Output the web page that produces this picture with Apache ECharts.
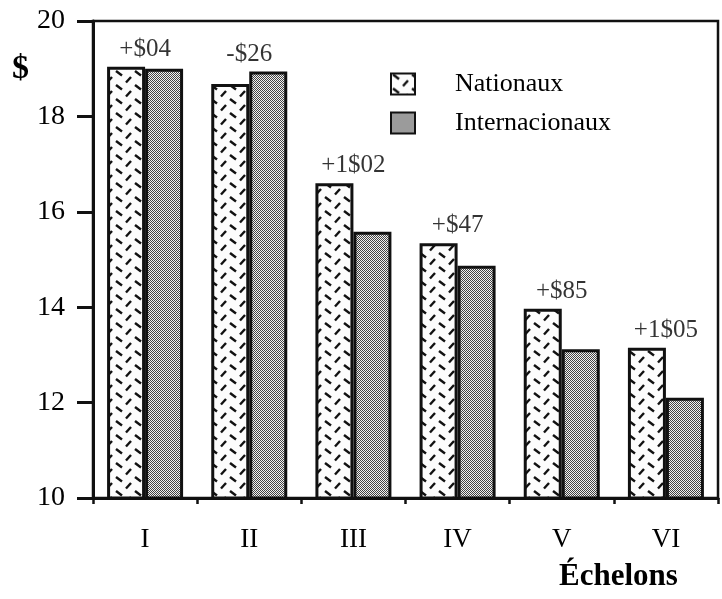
<!DOCTYPE html>
<html>
<head>
<meta charset="utf-8">
<script src="https://cdn.jsdelivr.net/npm/echarts@6/dist/echarts.min.js"></script>
<style>html,body{margin:0;padding:0;background:#fff}#c{width:722px;height:599px}</style>
</head>
<body>
<div id="c"></div>
<script>
const categories = ['I', 'II', 'III', 'IV', 'V', 'VI'];
const nationaux = [19.04, 18.68, 16.60, 15.34, 13.97, 13.15];
const internacionaux = [19.00, 18.94, 15.58, 14.87, 13.12, 12.10];
const diffLabels = ['+$04', '-$26', '+1$02', '+$47', '+$85', '+1$05'];
const yTicks = [10, 12, 14, 16, 18, 20];

const FONT = "'Liberation Serif', 'Times New Roman', serif";

function dashPattern() {
  const c = document.createElement('canvas');
  c.width = 19; c.height = 14;
  const g = c.getContext('2d');
  g.fillStyle = '#fcfcfc'; g.fillRect(0, 0, 19, 14);
  g.strokeStyle = '#111'; g.lineWidth = 2.4; g.lineCap = 'butt';
  g.beginPath(); g.moveTo(2, 1); g.lineTo(8, 5.5); g.stroke();
  g.beginPath(); g.moveTo(17, 7); g.lineTo(12, 12.5); g.stroke();
  return c;
}
function dotPattern() {
  const c = document.createElement('canvas');
  c.width = 4; c.height = 4;
  const g = c.getContext('2d');
  g.fillStyle = '#f2f2f2'; g.fillRect(0, 0, 4, 4);
  g.fillStyle = '#444';
  for (let y = 0; y < 4; y++) for (let x = 0; x < 4; x++) {
    if ((x + y) % 2 === 0) g.fillRect(x, y, 1, 1);
  }
  return c;
}

const chart = echarts.init(document.getElementById('c'));
const topVals = nationaux.map((v, i) => Math.max(v, internacionaux[i]));

chart.setOption({
  animation: false,
  backgroundColor: '#fff',
  grid: { left: 93, right: 4, top: 21, bottom: 101, show: true, borderColor: '#111', borderWidth: 2.5, backgroundColor: 'transparent' },
  legend: {
    orient: 'vertical', left: 390, top: 71, padding: 0, itemWidth: 24, itemHeight: 21, itemGap: 13,
    icon: 'rect',
    data: ['Nationaux', 'Internacionaux'],
    textStyle: { fontFamily: FONT, fontSize: 26, color: '#000', padding: [0, 0, 0, 35] }
  },
  xAxis: {
    type: 'category', data: categories,
    axisLine: { lineStyle: { color: '#111', width: 3 } },
    axisTick: { show: true, length: 6, lineStyle: { color: '#111', width: 2.5 } },
    axisLabel: { fontFamily: FONT, fontSize: 27, color: '#000', margin: 28 }
  },
  yAxis: {
    type: 'value', min: 10, max: 20, interval: 2,
    splitLine: { show: false },
    axisLine: { show: true, lineStyle: { color: '#111', width: 3 } },
    axisTick: { show: true, length: 16, lineStyle: { color: '#111', width: 3 } },
    axisLabel: { fontFamily: FONT, fontSize: 28, color: '#000', margin: 28,
      formatter: v => yTicks.includes(v) ? String(v) : '' }
  },
  series: [
    { name: 'Nationaux', type: 'bar', data: nationaux, barWidth: 38, barGap: '0%',
      itemStyle: { color: { image: dashPattern(), repeat: 'repeat' }, borderColor: '#111', borderWidth: 3 } },
    { name: 'Internacionaux', type: 'bar', data: internacionaux, barWidth: 38, barGap: '0%',
      itemStyle: { color: { image: dotPattern(), repeat: 'repeat' }, borderColor: '#111', borderWidth: 3 } },
    { name: 'diff', type: 'scatter', data: topVals, symbolSize: 0, silent: true,
      label: { show: true, position: 'top', distance: 5, fontFamily: FONT, fontSize: 25, color: '#000',
        formatter: p => diffLabels[p.dataIndex] } }
  ],
  graphic: [
    { type: 'text', left: 12, top: 52, style: { text: '$', font: "bold 34px 'Liberation Serif', serif", fill: '#000' } },
    { type: 'text', left: 559, top: 561, style: { text: 'Échelons', font: "bold 31px 'Liberation Serif', serif", fill: '#000' } }
  ]
});
</script>
</body>
</html>
